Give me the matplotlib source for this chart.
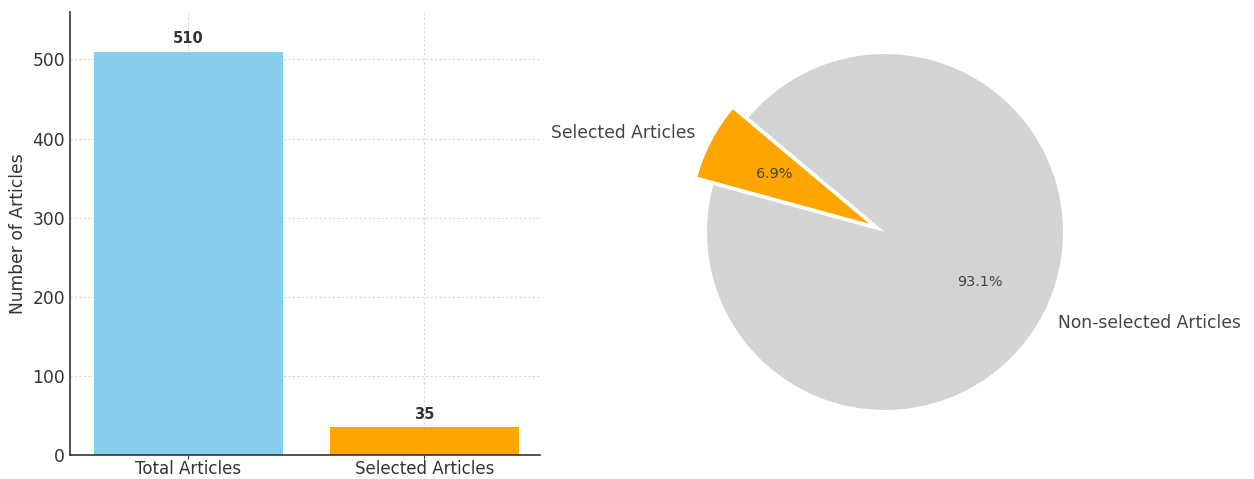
import matplotlib
matplotlib.use("Agg")
import matplotlib.pyplot as plt

categories = ["Total Articles", "Selected Articles"]
counts = [510, 35]
bar_colors = ["#87CEEB", "#FFA500"]

pie_labels = ["Selected Articles", "Non-selected Articles"]
pie_values = [35, 475]
pie_colors = ["#FFA500", "#D3D3D3"]

W, H = 1254, 479
fig = plt.figure(figsize=(W / 100, H / 100), dpi=100)
text_col = "#333333"

# Bar chart
ax1 = fig.add_axes([70 / W, (H - 455) / H, (540 - 70) / W, (455 - 12) / H])
x = list(range(len(categories)))
ax1.bar(x, counts, color=bar_colors, width=0.8, zorder=2)
for xi, v in zip(x, counts):
    ax1.text(xi, v + 7, str(v), ha="center", va="bottom", fontsize=10.5,
             fontweight="bold", color=text_col)
ax1.set_xticks(x)
ax1.set_xticklabels(categories, fontsize=12, color=text_col)
ax1.set_xlim(-0.5, 1.49)
ax1.set_ylim(0, 560)
ax1.set_yticks([0, 100, 200, 300, 400, 500])
ax1.tick_params(axis="y", labelsize=12.3, colors=text_col, length=0)
ax1.tick_params(axis="x", length=3, pad=0.5, colors=text_col)
ax1.set_ylabel("Number of Articles", fontsize=12.3, color=text_col, labelpad=4)
ax1.grid(True, linestyle=(0, (2, 2)), color="#d8d8d8", linewidth=0.8, zorder=0)
ax1.set_axisbelow(True)
for s in ["top", "right"]:
    ax1.spines[s].set_visible(False)
for s in ["left", "bottom"]:
    ax1.spines[s].set_color("#333333")
    ax1.spines[s].set_linewidth(1.2)

# Pie chart
cx, cy, r = 885, H - 232, 178
lim = 1.3
half = r * lim
ax2 = fig.add_axes([(cx - half) / W, (cy - half) / H, 2 * half / W, 2 * half / H])
wedges, texts, autotexts = ax2.pie(
    pie_values, labels=pie_labels, colors=pie_colors, explode=(0.1, 0),
    startangle=140, autopct="%1.1f%%", pctdistance=0.6, labeldistance=1.1,
    textprops={"fontsize": 12.3, "color": "#444444"})
for t in autotexts:
    t.set_fontsize(10.4)
    t.set_color("#444444")
ax2.set_xlim(-lim, lim)
ax2.set_ylim(-lim, lim)
ax2.set_aspect("equal")
ax2.axis("off")

fig.savefig("out.png", dpi=100)
